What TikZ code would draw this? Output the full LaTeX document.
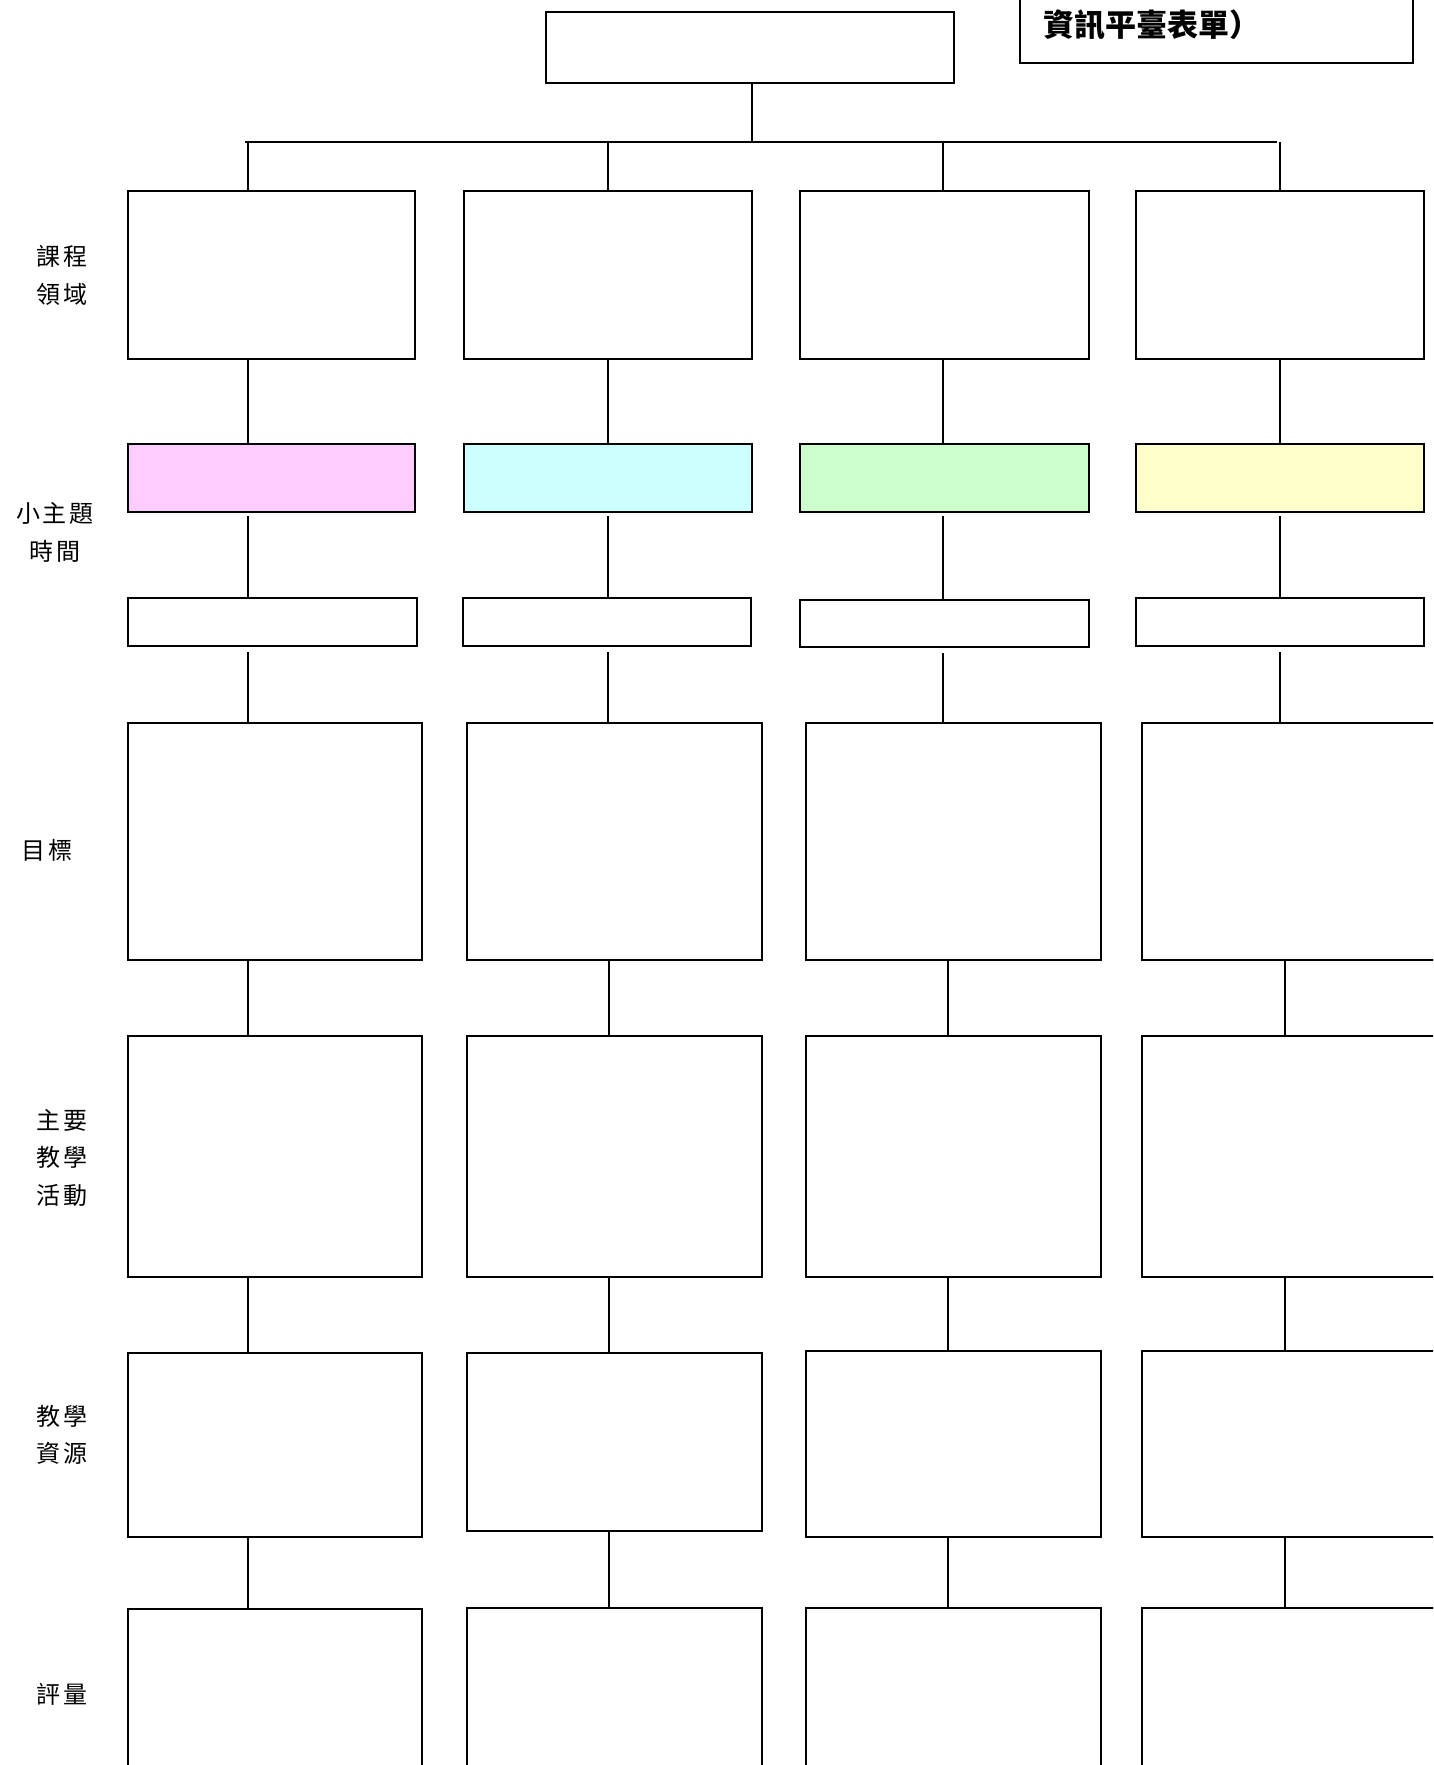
\documentclass[tikz,border=0pt]{standalone}
\usepackage{fontspec}
\newfontfamily\lbl[LetterSpace=10]{Noto Sans CJK TC}
\newfontfamily\ttl{Noto Sans CJK TC}
\definecolor{cpink}{HTML}{FFCCFF}
\definecolor{ccyan}{HTML}{CCFFFF}
\definecolor{cgreen}{HTML}{CCFFCC}
\definecolor{cyell}{HTML}{FFFFCC}
\tikzset{
  box/.style={draw=black, line width=2pt, inner sep=0pt, outer sep=0pt, anchor=north west, rectangle},
  conn/.style={draw=black, line width=2pt},
  lab/.style={font=\lbl\fontsize{24}{37.5}\selectfont, align=center, inner sep=0pt}
}
\begin{document}
\begin{tikzpicture}[x=1pt,y=-1pt]
\clip (0,0) rectangle (1433,1765);
\fill[white] (0,0) rectangle (1433,1765);
% top box and title box
\node[box, minimum width=408.3pt, minimum height=71.3pt] (top) at (545.7,11.7) {};
\node[box, minimum width=393pt, minimum height=83pt] (title) at (1020,-20) {};
\node[font=\ttl\bfseries\fontsize{31}{34}\selectfont, anchor=west, inner sep=0pt] (ttltext) at (1043,25) {資訊平臺表單）};
% bus
\coordinate (busL) at (245,142);
\coordinate (busR) at (1276.5,142);
\coordinate (busC) at (752,142);
\draw[conn] (busL) -- (busR);
\draw[conn] (top.south -| busC) -- (busC);
% column x coordinates
\coordinate (xa1) at (247.6,0);
\coordinate (xa2) at (608,0);
\coordinate (xa3) at (943.4,0);
\coordinate (xa4) at (1279.5,0);
\coordinate (xb1) at (247.6,0);
\coordinate (xb2) at (609,0);
\coordinate (xb3) at (948,0);
\coordinate (xb4) at (1284.5,0);
% row 1
\node[box, minimum width=287.1pt, minimum height=167.7pt] (r1c1) at (128.3,191.4) {};
\node[box, minimum width=288.2pt, minimum height=167.7pt] (r1c2) at (463.8,191.4) {};
\node[box, minimum width=288.2pt, minimum height=167.7pt] (r1c3) at (800.4,191.4) {};
\node[box, minimum width=288.2pt, minimum height=167.7pt] (r1c4) at (1135.8,191.4) {};
% row 2
\node[box, fill=cpink, minimum width=287.1pt, minimum height=68.7pt] (r2c1) at (128.3,443.5) {};
\node[box, fill=ccyan, minimum width=288.2pt, minimum height=68.7pt] (r2c2) at (463.8,443.5) {};
\node[box, fill=cgreen, minimum width=288.2pt, minimum height=68.7pt] (r2c3) at (800.4,443.5) {};
\node[box, fill=cyell, minimum width=288.2pt, minimum height=68.7pt] (r2c4) at (1135.8,443.5) {};
% row 3
\node[box, minimum width=288.2pt, minimum height=48.5pt] (r3c1) at (128.3,597.7) {};
\node[box, minimum width=288.1pt, minimum height=48.5pt] (r3c2) at (462.7,597.7) {};
\node[box, minimum width=288.2pt, minimum height=47.3pt] (r3c3) at (800.4,600) {};
\node[box, minimum width=288.2pt, minimum height=48.5pt] (r3c4) at (1135.8,597.7) {};
% row 4
\node[box, minimum width=293.8pt, minimum height=237.5pt] (r4c1) at (128.3,722.7) {};
\node[box, minimum width=294.9pt, minimum height=237.5pt] (r4c2) at (467.2,722.7) {};
\node[box, minimum width=295pt, minimum height=237.5pt] (r4c3) at (806,722.7) {};
\node[box, minimum width=295pt, minimum height=237.5pt] (r4c4) at (1141.5,722.7) {};
% row 5
\node[box, minimum width=293.8pt, minimum height=240.9pt] (r5c1) at (128.3,1035.6) {};
\node[box, minimum width=294.9pt, minimum height=240.9pt] (r5c2) at (467.2,1035.6) {};
\node[box, minimum width=295pt, minimum height=240.9pt] (r5c3) at (806,1035.6) {};
\node[box, minimum width=295pt, minimum height=240.9pt] (r5c4) at (1141.5,1035.6) {};
% row 6
\node[box, minimum width=293.8pt, minimum height=183.6pt] (r6c1) at (128.3,1353) {};
\node[box, minimum width=294.9pt, minimum height=178pt] (r6c2) at (467.2,1353) {};
\node[box, minimum width=295pt, minimum height=185.8pt] (r6c3) at (806,1350.8) {};
\node[box, minimum width=295pt, minimum height=185.8pt] (r6c4) at (1141.5,1350.8) {};
% row 7
\node[box, minimum width=293.8pt, minimum height=250pt] (r7c1) at (128.3,1608.6) {};
\node[box, minimum width=294.9pt, minimum height=250pt] (r7c2) at (467.2,1607.5) {};
\node[box, minimum width=295pt, minimum height=250pt] (r7c3) at (806,1607.5) {};
\node[box, minimum width=295pt, minimum height=250pt] (r7c4) at (1141.5,1607.5) {};
% connectors
\foreach \c in {1,2,3,4}{
  \draw[conn] (xa\c |- busL) -- (xa\c |- r1c\c.north);
  \draw[conn] (xa\c |- r1c\c.south) -- (xa\c |- r2c\c.north);
  \draw[conn, shorten <=4pt] (xa\c |- r2c\c.south) -- (xa\c |- r3c\c.north);
  \draw[conn, shorten <=6pt] (xa\c |- r3c\c.south) -- (xa\c |- r4c\c.north);
  \draw[conn] (xb\c |- r4c\c.south) -- (xb\c |- r5c\c.north);
  \draw[conn] (xb\c |- r5c\c.south) -- (xb\c |- r6c\c.north);
  \draw[conn] (xb\c |- r6c\c.south) -- (xb\c |- r7c\c.north);
}
% row labels
\node[lab] (l1) at (62,275.2) {課程\\領域};
\node[lab] (l2) at (55,532.5) {小主題\\時間};
\node[lab] (l3) at (47,850) {目標};
\node[lab] (l4) at (62,1157.5) {主要\\教學\\活動};
\node[lab] (l5) at (62,1435) {教學\\資源};
\node[lab] (l6) at (62,1694) {評量};
\end{tikzpicture}
\end{document}
